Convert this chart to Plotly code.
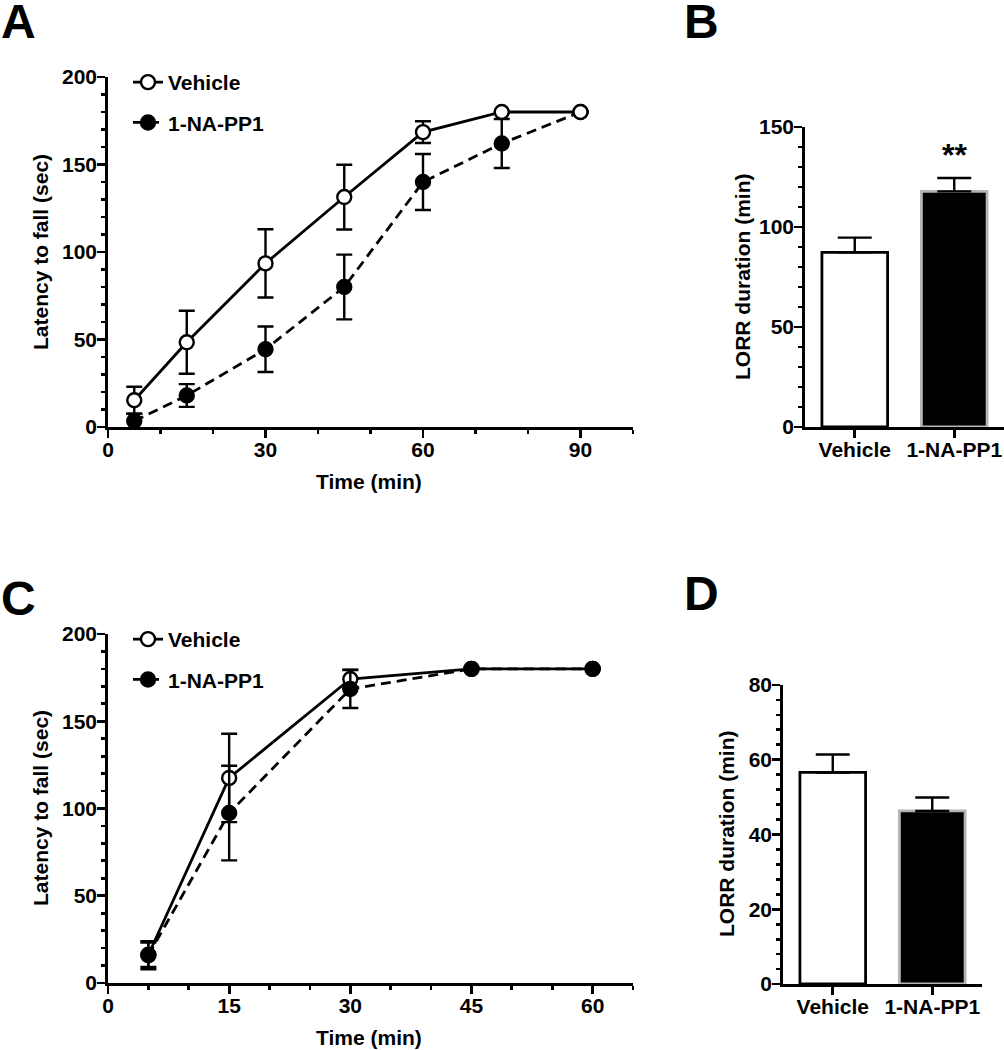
import plotly.graph_objects as go

# ---------------- data ----------------
time_A = [5, 15, 30, 45, 60, 75, 90]
veh_A = [15.3, 48.4, 93.5, 131.4, 168.5, 180, 180]
veh_A_sem = [7.7, 18.0, 19.5, 18.5, 6.2, 0, 0]
na_A = [3.4, 18.0, 44.4, 80.0, 140.0, 162.0, 180]
na_A_sem = [4.2, 6.5, 13.0, 18.5, 16.0, 14.0, 0]

time_C = [5, 15, 30, 45, 60]
veh_C = [16.2, 117.5, 174.2, 180, 180]
veh_C_sem = [7.0, 25.3, 5.4, 0, 0]
na_C = [15.9, 97.4, 168.5, 180, 180]
na_C_sem = [8.0, 27.1, 10.9, 0, 0]

groups = ["Vehicle", "1-NA-PP1"]
lorr_B = [87.3, 117.8]
lorr_B_sem = [7.4, 6.7]
lorr_D = [56.6, 46.3]
lorr_D_sem = [4.8, 3.6]

# ---------------- style ----------------
W, H = 1004, 1050
FONT = "Liberation Sans, Arial, sans-serif"
LW = 2.8


def px(x):
    return x / W


def py(y):
    return 1 - y / H


def nz(arr):
    return [v if v else None for v in arr]


fig = go.Figure()


def line_trace(x, y, sem, name, filled, dash, xa, ya, legend, rank):
    return go.Scatter(
        x=x, y=y, name=name, mode="lines+markers",
        xaxis=xa, yaxis=ya, legend=legend, legendrank=rank,
        legendgroup=legend + name,
        line=dict(color="black", width=LW, dash=dash),
        marker=dict(symbol="circle", size=14,
                    color="black" if filled else "white",
                    line=dict(color="black", width=2.4)),
        error_y=dict(type="data", array=nz(sem), visible=True,
                     color="black", thickness=2.4, width=8),
        cliponaxis=False,
    )


# Panel A (vehicle drawn on top)
fig.add_trace(line_trace(time_A, na_A, na_A_sem, "1-NA-PP1", True, "10px,6px", "x", "y", "legend", 2))
fig.add_trace(line_trace(time_A, veh_A, veh_A_sem, "Vehicle", False, "solid", "x", "y", "legend", 1))
# Panel C (1-NA-PP1 drawn on top)
fig.add_trace(line_trace(time_C, veh_C, veh_C_sem, "Vehicle", False, "solid", "x3", "y3", "legend2", 1))
fig.add_trace(line_trace(time_C, na_C, na_C_sem, "1-NA-PP1", True, "10px,6px", "x3", "y3", "legend2", 2))


def bar_trace(vals, sem, xa, ya):
    return go.Bar(
        x=[0, 1], y=vals, xaxis=xa, yaxis=ya, width=0.66, showlegend=False,
        marker=dict(color=["white", "black"],
                    line=dict(color=["black", "#b4b4b4"], width=LW)),
        error_y=dict(type="data", symmetric=False, array=sem, arrayminus=[0, 0],
                     color="black", thickness=2.4, width=17),
    )


fig.add_trace(bar_trace(lorr_B, lorr_B_sem, "x2", "y2"))
fig.add_trace(bar_trace(lorr_D, lorr_D_sem, "x4", "y4"))

tickfont = dict(family=FONT, size=21, color="black", weight="bold")


def axis(domain, rng, dtick, minor_dtick, anchor, standoff, **kw):
    d = dict(domain=domain, range=rng, anchor=anchor, dtick=dtick, tick0=0,
             showline=True, linecolor="black", linewidth=LW,
             ticks="outside", ticklen=8, tickwidth=LW, tickcolor="black",
             showgrid=False, zeroline=False, automargin=False,
             tickfont=tickfont, fixedrange=True, ticklabelstandoff=standoff)
    if minor_dtick:
        d["minor"] = dict(dtick=minor_dtick, ticklen=4, tickwidth=LW,
                          tickcolor="black", ticks="outside", showgrid=False)
    d.update(kw)
    return d


dom_A_x = [px(108), px(633)]
dom_A_y = [py(427), py(77)]
dom_B_x = [px(805), px(1004)]
dom_B_y = [py(427), py(127)]
dom_C_x = [px(108), px(633)]
dom_C_y = [py(983), py(634)]
dom_D_x = [px(783), px(982)]
dom_D_y = [py(984), py(685)]

cat_font = dict(family=FONT, size=21, color="black", weight="bold")

fig.update_layout(
    width=W, height=H, autosize=False,
    margin=dict(l=0, r=0, t=0, b=0),
    paper_bgcolor="white", plot_bgcolor="white",
    font=dict(family=FONT, color="black"),
    bargap=0,
    xaxis=axis(dom_A_x, [0, 100], 30, 10, "y", -6),
    yaxis=axis(dom_A_y, [0, 200], 50, 10, "x", -4),
    xaxis2=axis(dom_B_x, [-0.5, 1.5], None, None, "y2", -6,
                tickmode="array", tickvals=[0, 1], ticktext=groups, tickfont=cat_font),
    yaxis2=axis(dom_B_y, [0, 150], 50, 10, "x2", -4),
    xaxis3=axis(dom_C_x, [0, 65], 15, 5, "y3", -6),
    yaxis3=axis(dom_C_y, [0, 200], 50, 10, "x3", -4),
    xaxis4=axis(dom_D_x, [-0.5, 1.5], None, None, "y4", -6,
                tickmode="array", tickvals=[0, 1], ticktext=groups, tickfont=cat_font),
    yaxis4=axis(dom_D_y, [0, 80], 20, 4, "x4", -4),
    legend=dict(x=px(128), y=py(62), xanchor="left", yanchor="top",
                font=dict(family=FONT, size=21, color="black", weight="bold"),
                bgcolor="rgba(0,0,0,0)", tracegroupgap=10, itemwidth=30),
    legend2=dict(x=px(128), y=py(619), xanchor="left", yanchor="top",
                 font=dict(family=FONT, size=21, color="black", weight="bold"),
                 bgcolor="rgba(0,0,0,0)", tracegroupgap=10, itemwidth=30),
    showlegend=True,
)

title_font = dict(family=FONT, size=21, color="black", weight="bold")


def note(text, x, y, font, angle=0):
    return dict(text=text, x=px(x), y=py(y), xref="paper", yref="paper",
                xanchor="center", yanchor="middle", textangle=angle,
                showarrow=False, font=font)


ann = [
    note("Latency to fall (sec)", 40, 252, title_font, -90),
    note("LORR duration (min)", 742, 277, title_font, -90),
    note("Latency to fall (sec)", 40, 808, title_font, -90),
    note("LORR duration (min)", 726, 834, title_font, -90),
    note("Time (min)", 369, 481, title_font),
    note("Time (min)", 369, 1037, title_font),
    dict(text="**", x=1, y=136, xref="x2", yref="y2", showarrow=False,
         xanchor="center", yanchor="middle",
         font=dict(family=FONT, size=32, color="black", weight="bold")),
]
letter_font = dict(family=FONT, size=48, color="black", weight="bold")
for t, x, y in [("A", 18, 22), ("B", 701, 22), ("C", 18, 598), ("D", 701, 593)]:
    ann.append(note(t, x, y, letter_font))
fig.update_layout(annotations=ann)

fig.write_html(
    "out.html",
    config={"displayModeBar": False, "staticPlot": True},
    post_script="document.body.style.margin='0';document.body.style.padding='0';"
                "document.body.style.overflow='hidden';",
)
